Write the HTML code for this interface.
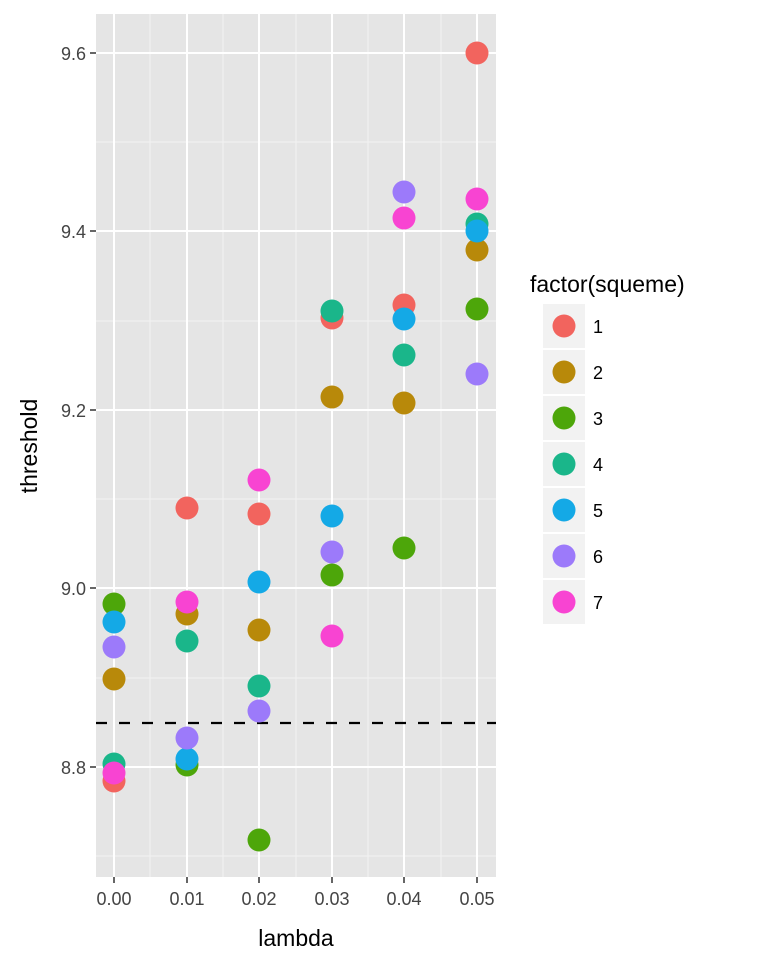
<!DOCTYPE html>
<html><head><style>body{margin:0;background:#fff}</style></head><body>
<svg width="768" height="960" xmlns="http://www.w3.org/2000/svg" font-family="Liberation Sans, sans-serif">
<rect x="96" y="14" width="400" height="863" fill="#E5E5E5"/>
<g stroke="#F2F2F2" stroke-width="1">
<line x1="96" x2="496" y1="142" y2="142"/><line x1="96" x2="496" y1="321" y2="321"/><line x1="96" x2="496" y1="499" y2="499"/><line x1="96" x2="496" y1="678" y2="678"/><line x1="96" x2="496" y1="856" y2="856"/>
<line y1="14" y2="877" x1="150" x2="150"/><line y1="14" y2="877" x1="223" x2="223"/><line y1="14" y2="877" x1="296" x2="296"/><line y1="14" y2="877" x1="368" x2="368"/><line y1="14" y2="877" x1="441" x2="441"/>
</g>
<g stroke="#FFFFFF" stroke-width="2">
<line x1="96" x2="496" y1="53" y2="53"/><line x1="96" x2="496" y1="231" y2="231"/><line x1="96" x2="496" y1="410" y2="410"/><line x1="96" x2="496" y1="588" y2="588"/><line x1="96" x2="496" y1="767" y2="767"/>
<line y1="14" y2="877" x1="114" x2="114"/><line y1="14" y2="877" x1="187" x2="187"/><line y1="14" y2="877" x1="259" x2="259"/><line y1="14" y2="877" x1="332" x2="332"/><line y1="14" y2="877" x1="404" x2="404"/><line y1="14" y2="877" x1="477" x2="477"/>
</g>
<line x1="96" x2="496" y1="723" y2="723" stroke="#000" stroke-width="2.2" stroke-dasharray="11,12"/>
<g>
<circle cx="114" cy="604" r="11.5" fill="#4DA60A"/><circle cx="114" cy="622" r="11.5" fill="#14A9E6"/><circle cx="114" cy="647" r="11.5" fill="#9C7AFA"/><circle cx="114" cy="679" r="11.5" fill="#B8890A"/><circle cx="114" cy="764" r="11.5" fill="#1AB68A"/><circle cx="114" cy="781" r="11.5" fill="#F2645E"/><circle cx="114" cy="773" r="11.5" fill="#F844D2"/>
<circle cx="187" cy="508" r="11.5" fill="#F2645E"/><circle cx="187" cy="614" r="11.5" fill="#B8890A"/><circle cx="187" cy="641" r="11.5" fill="#1AB68A"/><circle cx="187" cy="765" r="11.5" fill="#4DA60A"/><circle cx="187" cy="759" r="11.5" fill="#14A9E6"/><circle cx="187" cy="738" r="11.5" fill="#9C7AFA"/><circle cx="187" cy="602" r="11.5" fill="#F844D2"/>
<circle cx="259" cy="514" r="11.5" fill="#F2645E"/><circle cx="259" cy="630" r="11.5" fill="#B8890A"/><circle cx="259" cy="686" r="11.5" fill="#1AB68A"/><circle cx="259" cy="840" r="11.5" fill="#4DA60A"/><circle cx="259" cy="582" r="11.5" fill="#14A9E6"/><circle cx="259" cy="711" r="11.5" fill="#9C7AFA"/><circle cx="259" cy="480" r="11.5" fill="#F844D2"/>
<circle cx="332" cy="318" r="11.5" fill="#F2645E"/><circle cx="332" cy="311" r="11.5" fill="#1AB68A"/><circle cx="332" cy="397" r="11.5" fill="#B8890A"/><circle cx="332" cy="516" r="11.5" fill="#14A9E6"/><circle cx="332" cy="552" r="11.5" fill="#9C7AFA"/><circle cx="332" cy="575" r="11.5" fill="#4DA60A"/><circle cx="332" cy="636" r="11.5" fill="#F844D2"/>
<circle cx="404" cy="305" r="11.5" fill="#F2645E"/><circle cx="404" cy="403" r="11.5" fill="#B8890A"/><circle cx="404" cy="548" r="11.5" fill="#4DA60A"/><circle cx="404" cy="355" r="11.5" fill="#1AB68A"/><circle cx="404" cy="319" r="11.5" fill="#14A9E6"/><circle cx="404" cy="192" r="11.5" fill="#9C7AFA"/><circle cx="404" cy="218" r="11.5" fill="#F844D2"/>
<circle cx="477" cy="53" r="11.5" fill="#F2645E"/><circle cx="477" cy="250" r="11.5" fill="#B8890A"/><circle cx="477" cy="309" r="11.5" fill="#4DA60A"/><circle cx="477" cy="224" r="11.5" fill="#1AB68A"/><circle cx="477" cy="231" r="11.5" fill="#14A9E6"/><circle cx="477" cy="374" r="11.5" fill="#9C7AFA"/><circle cx="477" cy="199" r="11.5" fill="#F844D2"/>
</g>
<g stroke="#333" stroke-width="1.5">
<line x1="90" x2="96" y1="53" y2="53"/><line x1="90" x2="96" y1="231" y2="231"/><line x1="90" x2="96" y1="410" y2="410"/><line x1="90" x2="96" y1="588" y2="588"/><line x1="90" x2="96" y1="767" y2="767"/>
<line y1="877" y2="883" x1="114" x2="114"/><line y1="877" y2="883" x1="187" x2="187"/><line y1="877" y2="883" x1="259" x2="259"/><line y1="877" y2="883" x1="332" x2="332"/><line y1="877" y2="883" x1="404" x2="404"/><line y1="877" y2="883" x1="477" x2="477"/>
</g>
<g font-size="18" fill="#444" text-anchor="end">
<text x="86" y="60">9.6</text><text x="86" y="238">9.4</text><text x="86" y="417">9.2</text><text x="86" y="595">9.0</text><text x="86" y="774">8.8</text>
</g>
<g font-size="18" fill="#444" text-anchor="middle">
<text x="114" y="905">0.00</text><text x="187" y="905">0.01</text><text x="259" y="905">0.02</text><text x="332" y="905">0.03</text><text x="404" y="905">0.04</text><text x="477" y="905">0.05</text>
</g>
<text x="296" y="946" font-size="23" text-anchor="middle">lambda</text>
<text transform="translate(37,446) rotate(-90)" font-size="23" text-anchor="middle">threshold</text>
<text x="530" y="292" font-size="23">factor(squeme)</text>
<g>
<rect x="543" y="304" width="42" height="44" fill="#F2F2F2"/><circle cx="564" cy="326" r="11.5" fill="#F2645E"/>
<rect x="543" y="350" width="42" height="44" fill="#F2F2F2"/><circle cx="564" cy="372" r="11.5" fill="#B8890A"/>
<rect x="543" y="396" width="42" height="44" fill="#F2F2F2"/><circle cx="564" cy="418" r="11.5" fill="#4DA60A"/>
<rect x="543" y="442" width="42" height="44" fill="#F2F2F2"/><circle cx="564" cy="464" r="11.5" fill="#1AB68A"/>
<rect x="543" y="488" width="42" height="44" fill="#F2F2F2"/><circle cx="564" cy="510" r="11.5" fill="#14A9E6"/>
<rect x="543" y="534" width="42" height="44" fill="#F2F2F2"/><circle cx="564" cy="556" r="11.5" fill="#9C7AFA"/>
<rect x="543" y="580" width="42" height="44" fill="#F2F2F2"/><circle cx="564" cy="602" r="11.5" fill="#F844D2"/>
</g>
<g font-size="18" fill="#000">
<text x="593" y="333">1</text><text x="593" y="379">2</text><text x="593" y="425">3</text><text x="593" y="471">4</text><text x="593" y="517">5</text><text x="593" y="563">6</text><text x="593" y="609">7</text>
</g>
</svg>
</body></html>
